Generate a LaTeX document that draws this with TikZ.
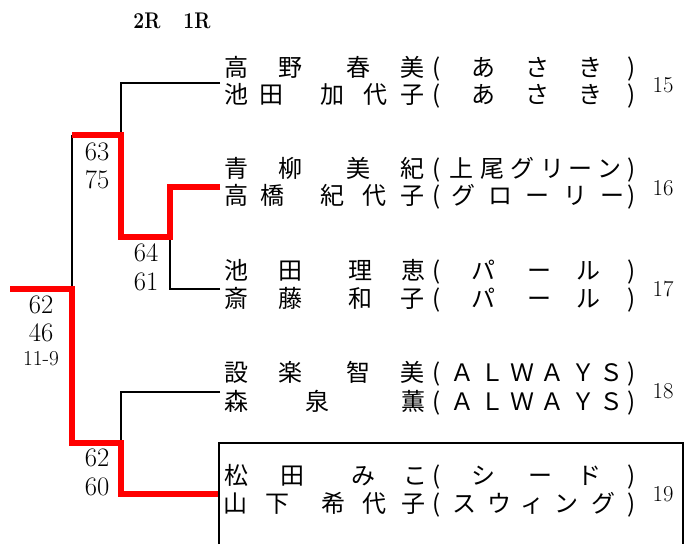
\documentclass[tikz,border=0pt]{standalone}
\usepackage{fontspec}
\newfontfamily\jpfont{Noto Sans CJK JP}
\usepackage{tikz}
\usetikzlibrary{positioning}

% one line of a pair: #1 row name, #2 y, #3 list of x/character
\newcommand{\spreadrow}[3]{%
  \foreach \cx/\ch [count=\k] in {#3}
    \node[kanji] (#1-\k) at (\cx,#2) {\ch};
}

\begin{document}
\begin{tikzpicture}[x=0.75pt,y=0.75pt,yscale=-1,xscale=1]
  \useasboundingbox (0,0) rectangle (684,544);
  \tikzstyle{bline} = [line width=1.5pt, black]
  \tikzstyle{win} = [line width=4.9pt, red, line join=miter]
  \tikzstyle{kanji} = [inner sep=0pt, text height=0.88em, text depth=0.12em, font=\jpfont\fontsize{18}{18}\selectfont]
  \tikzstyle{score} = [inner sep=0pt, font=\fontsize{20}{20}\selectfont]
  \tikzstyle{seed} = [inner sep=0pt, font=\fontsize{16}{16}\selectfont]
  \tikzstyle{entrynum} = [inner sep=0pt, font=\fontsize{17}{17}\selectfont]
  \tikzstyle{round} = [inner sep=0pt, font=\bfseries\fontsize{17}{17}\selectfont]

  %Draw the round labels
  \node[round] (r2) at (147,21) {\scalebox{0.85}[1]{2R}};
  \node[round] (r1) at (197,21) {\scalebox{0.85}[1]{1R}};

  %Points where the pairs meet the bracket
  \coordinate (e15) at (220,83);
  \coordinate (e16) at (220,187);
  \coordinate (e17) at (220,289);
  \coordinate (e18) at (220,392);
  \coordinate (e19) at (220,494);
  %Joints of the bracket
  \coordinate (j1) at (170,237);
  \coordinate (j2) at (121,135);
  \coordinate (j3) at (121,443);
  \coordinate (j4) at (72,289);
  \coordinate (k2) at (72,135);
  \coordinate (champ) at (10,289);

  %Draw black lines
  \draw[bline] (e15) -| (j2);
  \draw[bline] (e17) -| (j1);
  \draw[bline] (e18) -| (j3);
  \draw[bline] (k2) -- (j4);
  %Draw winner lines
  \draw[win] (k2) -- (j2) |- (j1) |- (e16);
  \draw[win] (champ) -- (j4) |- (j3) |- (e19);

  %Draw the seed box
  \coordinate (b1) at (219,544);
  \coordinate (b2) at (683,443);
  \coordinate (b3) at (683,544);
  \draw[bline] (b1) |- (b2) -- (b3);

  % Scores
  \node[score] (m2a) at (97,152) {63};
  \node[score] (m2b) at (97,180) {75};
  \node[score] (m1a) at (146,253) {64};
  \node[score] (m1b) at (146,282) {61};
  \node[score] (m4a) at (41,305) {62};
  \node[score] (m4b) at (41,333) {46};
  \node[seed] (m4c) at (41,359) {11-9};
  \node[score] (m3a) at (97,458) {62};
  \node[score] (m3b) at (97,487) {60};

  % Names
  \spreadrow{p15a}{71}{236/高,290/野,358/春,412/美,437/{(},483/あ,537/さ,590/き,632/{)}}
  \spreadrow{p15b}{98}{236/池,271/田,332/加,375/代,412/子,437/{(},483/あ,537/さ,590/き,632/{)}}
  \spreadrow{p16a}{172}{236/青,290/柳,358/美,412/紀,437/{(},461/上,492/尾,522/グ,552/リ,580/ー,609/ン,632/{)}}
  \spreadrow{p16b}{199}{236/高,272/橋,332/紀,374/代,412/子,437/{(},463/グ,500/ロ,537/ー,575/リ,612/ー,632/{)}}
  \spreadrow{p17a}{274}{236/池,290/田,360/理,413/恵,437/{(},483/パ,539/ー,588/ル,632/{)}}
  \spreadrow{p17b}{302}{236/斎,290/藤,360/和,412/子,437/{(},483/パ,539/ー,588/ル,632/{)}}
  \spreadrow{p18a}{376}{236/設,290/楽,358/智,412/美,437/{(},462/Ａ,492/Ｌ,522/Ｗ,552/Ａ,583/Ｙ,611/Ｓ,632/{)}}
  \spreadrow{p18b}{405}{236/森,317/泉,413/薫,437/{(},462/Ａ,492/Ｌ,522/Ｗ,552/Ａ,583/Ｙ,611/Ｓ,632/{)}}
  \spreadrow{p19a}{479}{236/松,292/田,363/み,415/こ,437/{(},483/シ,540/ー,589/ド,632/{)}}
  \spreadrow{p19b}{507}{235/山,277/下,333/希,374/代,413/子,437/{(},464/ス,499/ウ,532/ィ,566/ン,603/グ,632/{)}}

  % Draw the numbers
  \node[entrynum] (n15) at (663,85) {15};
  \node[entrynum] (n16) at (663,188) {16};
  \node[entrynum] (n17) at (663,289) {17};
  \node[entrynum] (n18) at (663,391) {18};
  \node[entrynum] (n19) at (663,494) {19};
\end{tikzpicture}
\end{document}
